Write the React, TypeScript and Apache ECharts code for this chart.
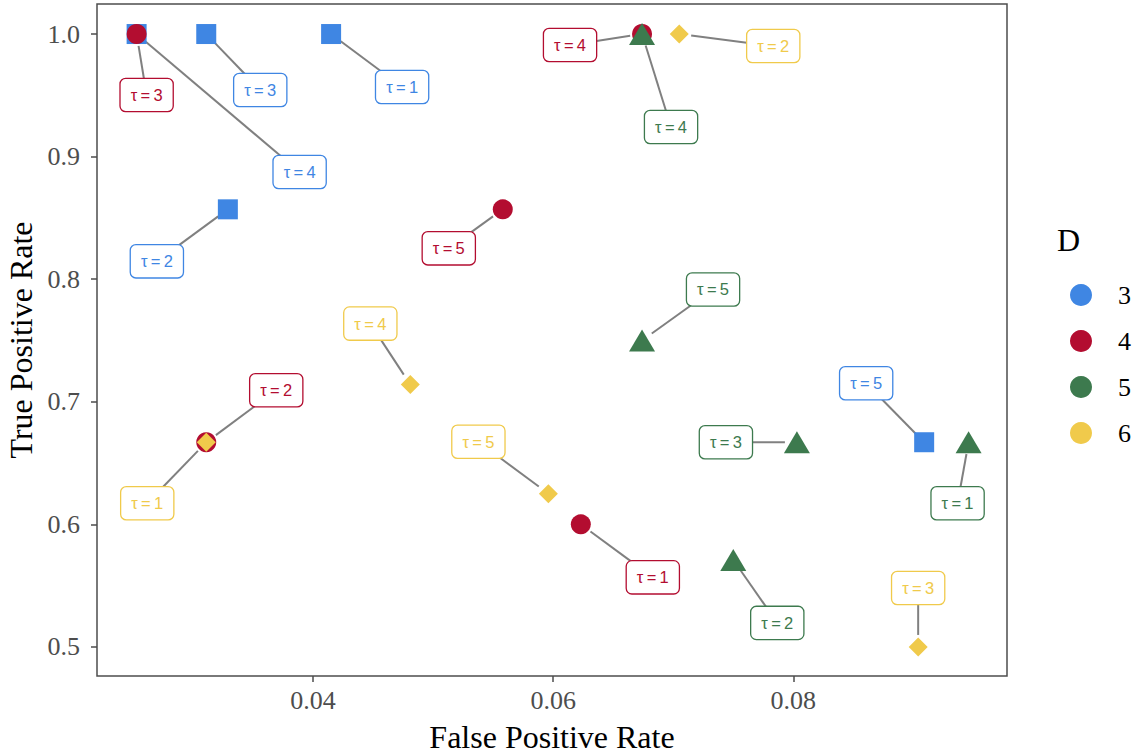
import React, { useEffect, useRef } from "react";
import * as echarts from "echarts";

// Data: false positive rate, true positive rate, tau, for each D
const groups = ["3", "4", "5", "6"];
const tau = [1, 2, 3, 4, 5];
const fprD3 = [0.0415, 0.0329, 0.0311, 0.0253, 0.0909];
const tprD3 = [1.0, 0.857, 1.0, 1.0, 0.667];
const fprD4 = [0.0623, 0.0311, 0.0253, 0.0674, 0.0558];
const tprD4 = [0.6, 0.667, 1.0, 1.0, 0.857];
const fprD5 = [0.0946, 0.075, 0.0803, 0.0674, 0.0674];
const tprD5 = [0.667, 0.571, 0.667, 1.0, 0.75];
const fprD6 = [0.0311, 0.0705, 0.0904, 0.0481, 0.0596];
const tprD6 = [0.667, 1.0, 0.5, 0.714, 0.625];
const xTicks = [0.04, 0.06, 0.08];
const yTicks = [0.5, 0.6, 0.7, 0.8, 0.9, 1.0];

// label offsets (pixels, label centre relative to point), per tau
const offsD3 = [[71, 53], [-71, 52], [54, 56], [163, 138], [-58, -59]];
const offsD4 = [[72, 53], [70, -52], [10, 61], [-72, 11], [-54, 39]];
const offsD5 = [[-11, 61], [44, 63], [-71, 0], [29, 93], [71, -51]];
const offsD6 = [[-59, 61], [94, 12], [0, -59], [-40, -61], [-70, -52]];

const colors = ["#3F86E3", "#B30D30", "#3D7A4E", "#F0CA4B"];
const symbols = ["rect", "circle", "triangle", "diamond"];
const symbolSizes: any[] = [20, 20, [26, 22], 19];

const fprs = [fprD3, fprD4, fprD5, fprD6];
const tprs = [tprD3, tprD4, tprD5, tprD6];
const offs = [offsD3, offsD4, offsD5, offsD6];

const SERIF = "'Liberation Serif', 'Times New Roman', serif";
const SANS = "'Liberation Sans', Arial, sans-serif";
const BOX_HW = 26.5;
const BOX_HH = 16;
const POINT_PAD = 12;

export default function App() {
  const ref = useRef<HTMLDivElement>(null);
  useEffect(() => {
    const chart = echarts.init(ref.current!, null, { renderer: "svg" });
    const series = groups.map((g, si) => ({
      type: "scatter",
      name: g,
      symbol: symbols[si],
      symbolSize: symbolSizes[si],
      itemStyle: { color: colors[si], opacity: 1 },
      data: fprs[si].map((x, i) => [x, tprs[si][i], tau[i]]),
      label: {
        show: true,
        position: "inside",
        formatter: (p: any) => "τ\u2009=\u2009" + p.value[2],
        color: colors[si],
        fontFamily: SANS,
        fontSize: 16.5,
        lineHeight: 18,
        backgroundColor: "#ffffff",
        borderColor: colors[si],
        borderWidth: 1.3,
        borderRadius: 5,
        padding: [7, 10, 7, 10],
      },
      labelLayout: (p: any) => ({ dx: offs[si][p.dataIndex][0], dy: offs[si][p.dataIndex][1] }),
      emphasis: { disabled: true },
      z: 3 + si,
    }));
    chart.setOption({
      animation: false,
      grid: {
        left: 97,
        top: 4,
        right: 135,
        bottom: 78,
        show: true,
        outerBoundsMode: "none",
        containLabel: false,
        borderColor: "#4d4d4d",
        borderWidth: 1.5,
        backgroundColor: "#ffffff",
      },
      xAxis: {
        type: "value",
        min: 0.022,
        max: 0.0978,
        name: "False Positive Rate",
        nameLocation: "middle",
        nameGap: 45,
        nameTextStyle: { fontFamily: SERIF, fontSize: 32, color: "#000" },
        axisLine: { show: false },
        splitLine: { show: false },
        axisTick: { show: true, customValues: xTicks, length: 6, lineStyle: { color: "#4d4d4d", width: 1.5 } },
        axisLabel: {
          customValues: xTicks,
          formatter: (v: number) => v.toFixed(2),
          fontFamily: SERIF,
          fontSize: 26,
          color: "#4d4d4d",
          margin: 11,
        },
      },
      yAxis: {
        type: "value",
        min: 0.4763,
        max: 1.0245,
        name: "True Positive Rate",
        nameLocation: "middle",
        nameGap: 59,
        nameTextStyle: { fontFamily: SERIF, fontSize: 32, color: "#000" },
        axisLine: { show: false },
        splitLine: { show: false },
        axisTick: { show: true, customValues: yTicks, length: 6, lineStyle: { color: "#4d4d4d", width: 1.5 } },
        axisLabel: {
          customValues: yTicks,
          formatter: (v: number) => v.toFixed(1),
          fontFamily: SERIF,
          fontSize: 26,
          color: "#4d4d4d",
          margin: 17,
        },
      },
      legend: {
        orient: "vertical",
        left: 1070,
        top: 282,
        padding: 0,
        itemWidth: 22,
        itemHeight: 22,
        itemGap: 20,
        icon: "circle",
        data: groups,
        textStyle: { fontFamily: SERIF, fontSize: 26, lineHeight: 22, color: "#000", padding: [0, 0, 0, 21] },
        selectedMode: false,
      },
      graphic: [
        {
          id: "legendTitle",
          type: "text",
          left: 1057,
          top: 224,
          style: { text: "D", fontFamily: SERIF, fontSize: 32, fill: "#000" },
        },
      ],
      series,
    });

    // connector segments from each point toward its label, clipped at the label box
    const segs: any[] = [];
    groups.forEach((g, si) => {
      fprs[si].forEach((x, i) => {
        const p = chart.convertToPixel({ seriesIndex: si }, [x, tprs[si][i]]) as number[];
        const [ox, oy] = offs[si][i];
        const cx = p[0] + ox;
        const cy = p[1] + oy;
        const dx = p[0] - cx;
        const dy = p[1] - cy;
        const t = Math.min(dx !== 0 ? BOX_HW / Math.abs(dx) : Infinity, dy !== 0 ? BOX_HH / Math.abs(dy) : Infinity);
        const ex = cx + dx * t;
        const ey = cy + dy * t;
        const len = Math.hypot(dx, dy);
        const sx = p[0] - (dx / len) * POINT_PAD;
        const sy = p[1] - (dy / len) * POINT_PAD;
        segs.push({
          id: "seg" + si + "_" + i,
          type: "line",
          z: 2,
          silent: true,
          shape: { x1: sx, y1: sy, x2: ex, y2: ey },
          style: { stroke: "#808080", lineWidth: 2 },
        });
      });
    });
    chart.setOption({ graphic: segs });
    return () => chart.dispose();
  }, []);
  return (
    <div
      ref={ref}
      style={{ position: "fixed", left: 0, top: 0, width: 1142, height: 754, background: "#fff" }}
    />
  );
}
